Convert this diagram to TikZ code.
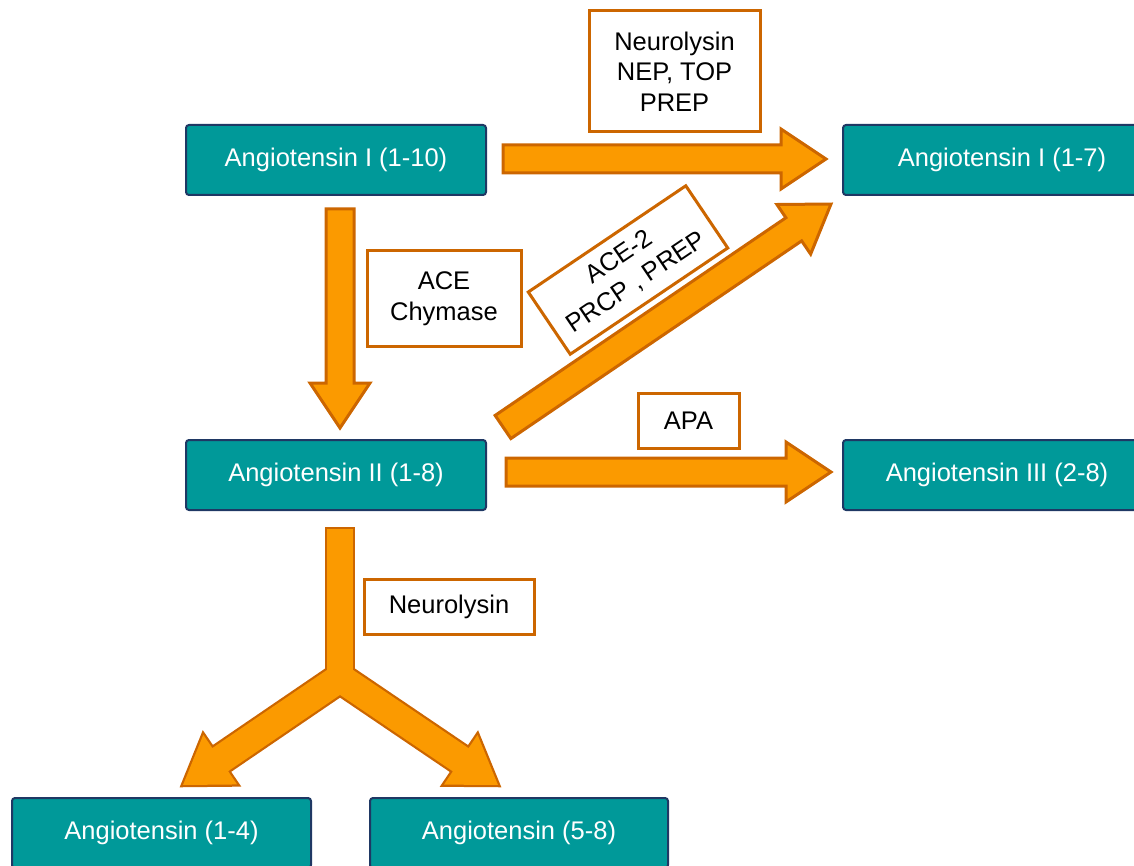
\documentclass[tikz,border=0pt]{standalone}
\usepackage{fontspec}
\setmainfont{Liberation Sans}
\usetikzlibrary{calc}
\definecolor{teal1}{HTML}{009999}
\definecolor{navy1}{HTML}{1F3864}
\definecolor{orfill}{HTML}{FB9A00}
\definecolor{ordark}{HTML}{CC6600}
\tikzset{
  ang/.style={draw=navy1, line width=2pt, fill=teal1, rounded corners=3pt,
    minimum width=300pt, minimum height=70pt, text=white, inner sep=0pt,
    font=\fontsize{25.5}{30}\selectfont},
  enz/.style={draw=ordark, line width=3pt, fill=white, text=black, inner sep=0pt,
    align=center, font=\fontsize{25.5}{30.5}\selectfont},
  barrow/.style={draw=ordark, fill=orfill, line width=3pt, line join=miter},
  yout/.style={draw=ordark, line width=4.5pt, line join=miter},
  yin/.style={fill=orfill, draw=none},
}
\newcommand{\blockarrow}[3][]{%
  \path[#1] let \p1=(#2), \p2=(#3),
    \n1={atan2(\y2-\y1,\x2-\x1)}, \n2={veclen(\x2-\x1,\y2-\y1)} in
    [shift={(\p1)}, rotate=\n1]
    (0pt,-14pt) -- ({(\n2-45)*1pt},-14pt) -- ({(\n2-45)*1pt},-30pt)
    -- ({\n2*1pt},0pt) -- ({(\n2-45)*1pt},30pt) -- ({(\n2-45)*1pt},14pt)
    -- (0pt,14pt) -- cycle;}
\begin{document}
\begin{tikzpicture}[x=1pt,y=-1pt]
\useasboundingbox (0,0) rectangle (1134,866);
% compounds
\node[ang] (a1) at (336,160) {Angiotensin I (1-10)};
\node[ang, minimum width=318pt] (a17) at (1002,160) {Angiotensin I (1-7)};
\node[ang] (a2) at (336,475) {Angiotensin II (1-8)};
\node[ang, minimum width=308pt] (a3) at (997,475) {Angiotensin III (2-8)};
\node[ang, minimum width=299pt] (a14) at (161.5,833) {Angiotensin (1-4)};
\node[ang, minimum width=298pt] (a58) at (519,833) {Angiotensin (5-8)};
% enzymes
\node[enz, minimum width=171pt, minimum height=121pt] (e1) at (674.5,71.5) {Neurolysin\\NEP, TOP\\PREP};
\node[enz, minimum width=154pt, minimum height=95pt] (e2) at (444,298.5) {ACE\\Chymase};
\node[enz, minimum width=190pt, minimum height=75pt, rotate=34] (e3) at (628,270) {ACE-2\\PRCP , PREP};
\node[enz, minimum width=101pt, minimum height=55pt] (e4) at (688.5,420.5) {APA};
\node[enz, minimum width=170pt, minimum height=55pt] (e5) at (449,606.5) {Neurolysin};
% arrow end points
\coordinate (p1s) at ($(a1.east)+(16,-1)$);
\coordinate (p1e) at ($(a17.west)+(-16,-1)$);
\coordinate (p2s) at ($(a1.south)+(4,13)$);
\coordinate (p2e) at ($(a2.north)+(4,-11)$);
\coordinate (p3s) at ($(a2.east)+(19,-3)$);
\coordinate (p3e) at ($(a3.west)+(-11,-3)$);
\coordinate (p4s) at ($(a2.north east)+(16,-12)$);
\coordinate (p4e) at ($(a17.south west)+(-11,8)$);
\coordinate (ys) at ($(a2.south)+(4,18)$);
\coordinate (yj) at ($(a2.south)+(4,167)$);
\coordinate (yl) at ($(a14.north)+(21.5,-12)$);
\coordinate (yr) at ($(a58.north)+(-21,-12)$);
% single block arrows
\blockarrow[barrow]{p1s}{p1e}
\blockarrow[barrow]{p2s}{p2e}
\blockarrow[barrow]{p3s}{p3e}
\blockarrow[barrow]{p4s}{p4e}
% forked arrow: outline first, then fill
\draw[yout] ($(ys)+(-13,0)$) rectangle ($(yj)+(13,5)$);
\blockarrow[yout]{yj}{yl}
\blockarrow[yout]{yj}{yr}
\fill[yin] ($(ys)+(-13,0)$) rectangle ($(yj)+(13,5)$);
\blockarrow[yin]{yj}{yl}
\blockarrow[yin]{yj}{yr}
\end{tikzpicture}
\end{document}
